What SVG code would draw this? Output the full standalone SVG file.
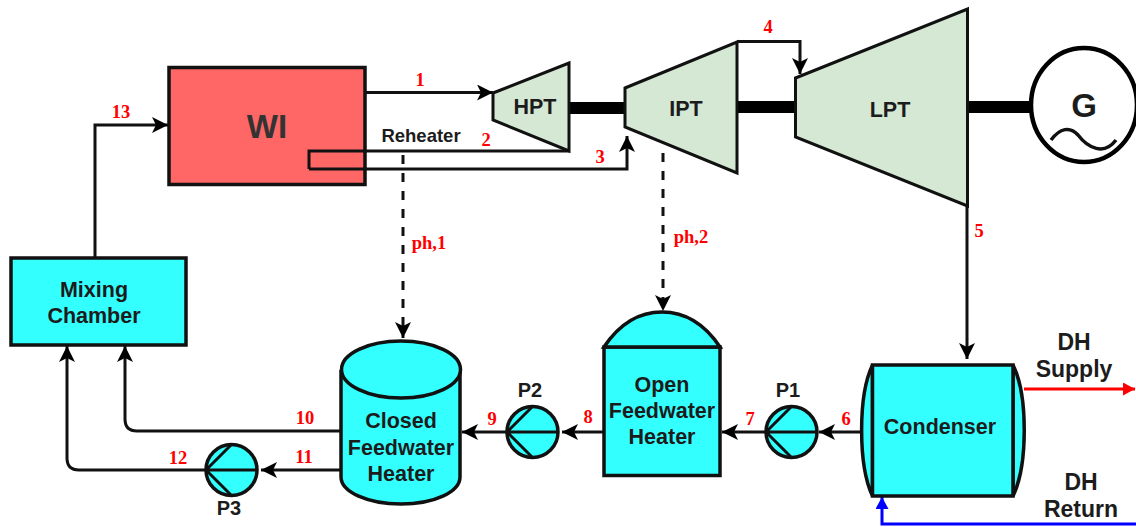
<svg xmlns="http://www.w3.org/2000/svg" width="1136" height="527" viewBox="0 0 1136 527">
<style>
.n{stroke:#111;stroke-width:3.5;stroke-linejoin:miter}
.c{fill:#33ffff}.g{fill:#d5e8d4;stroke-width:3}
.t{font-family:"Liberation Sans",Arial,sans-serif;font-weight:700;fill:#1c1c1c;text-anchor:middle;font-size:21.500px}
.r{font-family:"Liberation Serif","Times New Roman",serif;font-weight:700;fill:#ff0000;text-anchor:middle;font-size:18.500px}
.l{fill:none;stroke:#111;stroke-width:3}
.a{marker-end:url(#k)}
.d{stroke-dasharray:9 9}
.p{stroke:#111;stroke-width:3.500}
.q{fill:none;stroke:#111;stroke-width:3}
.s{fill:#000;stroke:none}
.m{font-size:20px}
.h{font-size:23px}
</style>
<defs>
<marker id="k" markerUnits="userSpaceOnUse" markerWidth="18" markerHeight="18" refX="16" refY="8" orient="auto"><path d="M0 0 16 8 0 16 4 8z" fill="#000"/></marker>
<marker id="kr" markerUnits="userSpaceOnUse" markerWidth="14" markerHeight="16" refX="12" refY="6.500" orient="auto"><path d="M0 0 12 6.500 0 13z" fill="#ff0000"/></marker>
<marker id="kb" markerUnits="userSpaceOnUse" markerWidth="14" markerHeight="16" refX="12" refY="6.500" orient="auto"><path d="M0 0 12 6.500 0 13z" fill="#0000ff"/></marker>
</defs>

<g id="shafts">
<rect class="s" x="569" y="102" width="56" height="12"/>
<rect class="s" x="737" y="101" width="59" height="12"/>
<rect class="s" x="967" y="101" width="64" height="12"/>
</g>

<g id="wi">
<rect class="n" x="169" y="67.500" width="196" height="117" fill="#ff6666"/>
<text class="t" x="267" y="138" style="font-size:33px;fill:#333">WI</text>
</g>

<g id="connectors">
<path class="l a" d="M365 92.500H493"/>
<path class="l" d="M569 151H309V169"/>
<path class="l a" d="M309 169H627V136"/>
<path class="l a" d="M737 41.500H800V74"/>
<path class="l a" d="M967 206V359"/>
<path class="l a d" d="M403 155V338"/>
<path class="l a d" d="M663 153V311"/>
<path class="l a" d="M95 257V125H168"/>
<path class="l a" d="M341 431H137Q125 431 125 419V346"/>
<path class="l a" d="M205 470H79Q67 470 67 458V346"/>
<path class="l a" d="M341 470H261"/>
<path class="l a" d="M507 432H462"/>
<path class="l a" d="M604 432H562"/>
<path class="l a" d="M765 432H722"/>
<path class="l a" d="M862 432H819"/>
<path d="M1024 389H1135" fill="none" stroke="#ff0000" stroke-width="3" marker-end="url(#kr)"/>
<path d="M1136 524H882V497" fill="none" stroke="#0000ff" stroke-width="3" marker-end="url(#kb)"/>
</g>

<g id="reheater"><text class="t" x="421" y="142" style="font-size:18.500px">Reheater</text></g>

<g id="hpt">
<polygon class="n g" points="493,93 569,63 569,151 493,120"/>
<text class="t" x="535" y="114">HPT</text>
</g>
<g id="ipt">
<polygon class="n g" points="625,88 737,42 737,173 625,127"/>
<text class="t" x="686" y="116">IPT</text>
</g>
<g id="lpt">
<polygon class="n g" points="795.500,78 967.500,9 967.500,206 795.500,137"/>
<text class="t" x="890" y="117">LPT</text>
</g>
<g id="generator">
<ellipse cx="1084" cy="105" rx="53" ry="57" fill="#fff" stroke="#000" stroke-width="4.500"/>
<text class="t" x="1084" y="117" style="font-size:33px">G</text>
<path d="M1051 140C1060 128 1070 126 1078 135C1088 148 1104 156 1116 140" fill="none" stroke="#111" stroke-width="3.500"/>
</g>

<g id="mixing-chamber">
<rect class="n c" x="11" y="258" width="175" height="87"/>
<text class="t" x="94" y="297">Mixing</text>
<text class="t" x="94" y="323">Chamber</text>
</g>

<g id="closed-feedwater-heater">
<path class="n c" d="M341 370V477C341 492 368 504 401 504C434 504 460 492 460 477V370"/>
<ellipse class="n c" cx="401" cy="369.500" rx="59.500" ry="28.500"/>
<text class="t" x="401" y="428">Closed</text>
<text class="t" x="401" y="455">Feedwater</text>
<text class="t" x="401" y="481">Heater</text>
</g>

<g id="open-feedwater-heater">
<rect class="n c" x="604" y="347" width="116" height="128.500"/>
<path class="n c" d="M604 347C620 323 640 312 662 312C684 312 704 323 720 347Z"/>
<text class="t" x="662" y="392">Open</text>
<text class="t" x="662" y="418">Feedwater</text>
<text class="t" x="662" y="444">Heater</text>
</g>

<g id="condenser">
<path class="n c" d="M872.500 365C858 395 858 465 872.500 496Z"/>
<path class="n c" d="M1013 365C1028 395 1028 465 1013 496Z"/>
<rect class="n c" x="872.500" y="365" width="140.500" height="131"/>
<text class="t" x="940" y="434">Condenser</text>
</g>

<g id="p1">
<circle class="p c" cx="791.500" cy="432" r="25.500"/>
<path class="q" d="M766 432H817M766 432 791.500 406.500M766 432 791.500 457.500"/>
<text class="t m" x="788" y="397">P1</text>
</g>
<g id="p2">
<circle class="p c" cx="532.500" cy="432" r="25.500"/>
<path class="q" d="M507 432H558M507 432 532.500 406.500M507 432 532.500 457.500"/>
<text class="t m" x="530" y="397">P2</text>
</g>
<g id="p3">
<circle class="p c" cx="231.500" cy="470" r="25.500"/>
<path class="q" d="M206 470H257M206 470 231.500 444.500M206 470 231.500 495.500"/>
<text class="t m" x="229" y="515">P3</text>
</g>

<g id="dh-labels">
<text class="t h" x="1074" y="350">DH</text>
<text class="t h" x="1074" y="377">Supply</text>
<text class="t h" x="1081" y="490">DH</text>
<text class="t h" x="1081" y="517">Return</text>
</g>

<g id="state-labels">
<text class="r" x="420" y="86">1</text>
<text class="r" x="486" y="146">2</text>
<text class="r" x="600" y="163">3</text>
<text class="r" x="768" y="33">4</text>
<text class="r" x="979" y="237">5</text>
<text class="r" x="846" y="425">6</text>
<text class="r" x="750" y="425">7</text>
<text class="r" x="588" y="423">8</text>
<text class="r" x="492" y="425">9</text>
<text class="r" x="305" y="424">10</text>
<text class="r" x="304" y="463">11</text>
<text class="r" x="178" y="464">12</text>
<text class="r" x="121" y="118">13</text>
<text class="r" x="429" y="249">ph,1</text>
<text class="r" x="691" y="243">ph,2</text>
</g>
</svg>
